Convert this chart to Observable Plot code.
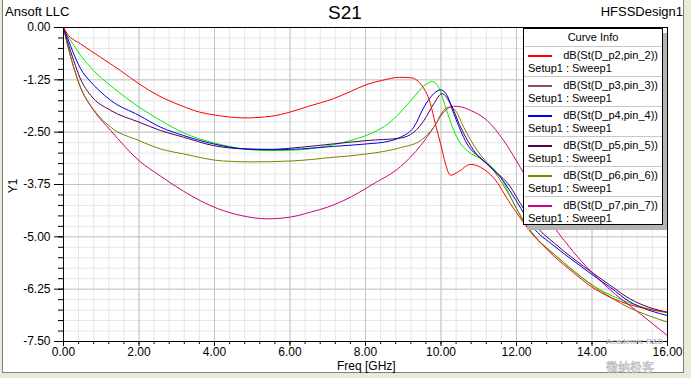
<!DOCTYPE html>
<html>
<head>
<meta charset="utf-8">
<script src="https://cdn.jsdelivr.net/npm/d3@7"></script>
<script src="https://cdn.jsdelivr.net/npm/@observablehq/plot@0.6"></script>
<style>
  html, body { margin:0; padding:0; }
  body { width:691px; height:378px; position:relative; overflow:hidden; background:#ece9d8;
         font-family:"Liberation Sans", Arial, sans-serif; color:#000; }
  #panel { position:absolute; left:2px; top:0; width:680px; height:372px; background:#fff;
           border-left:1px solid #808080; border-right:1px solid #808080; border-bottom:1px solid #808080; }
  #chart { position:absolute; left:0; top:0; }
  .t { position:absolute; white-space:nowrap; }
  #legend { position:absolute; left:523px; top:28px; width:138px; height:195px; background:#fff;
            border:1px solid #000; box-shadow:4px 5px 0 #b4b4b4; font-size:11px; }
  #legend .hdr { height:17px; line-height:17px; text-align:center; }
  #legend .ent { position:relative; height:29px; border-top:1px solid #c8c8c8; }
  #legend .sw { position:absolute; left:4px; top:8px; width:24px; height:2px; }
  #legend .l1 { position:absolute; right:4px; top:2px; line-height:13px; }
  #legend .l2 { position:absolute; left:4px; top:15px; line-height:13px; }
</style>
</head>
<body>
<div id="panel"></div>
<div id="chart"></div>
<div class="t" style="left:5px; top:4px; font-size:13px;">Ansoft LLC</div>
<div class="t" style="left:328px; top:2px; font-size:19px;">S21</div>
<div class="t" style="right:8px; top:4px; font-size:13px;">HFSSDesign1</div>
<div class="t" style="left:337px; top:360px; font-size:12px; line-height:12px;">Freq [GHz]</div>
<div class="t" style="left:6px; top:179px; font-size:12px; transform:rotate(-90deg); transform-origin:50% 50%;">Y1</div>
<div class="t" style="left:606px; top:338px; font-size:8px; line-height:8px; color:#c0c0c0; font-weight:bold;">Academic R&amp;D</div>
<div class="t" style="left:606px; top:361px; font-size:12px; line-height:12px; color:transparent; -webkit-text-stroke:0.6px #b8b8b8; font-family:'Noto Sans CJK SC';">微纳极客</div>
<div id="legend"></div>
<script>
// ---- axis ticks ----
const majorX = [0, 2, 4, 6, 8, 10, 12, 14, 16];
const minorX = d3.range(0, 41).map(i => +(i * 0.4).toFixed(2));
const majorY = [0, -1.25, -2.5, -3.75, -5, -6.25, -7.5];
const minorY = d3.range(0, 31).map(i => -i * 0.25);

// ---- legend ----
const legendNames = ["dB(St(D_p2,pin_2))", "dB(St(D_p3,pin_3))", "dB(St(D_p4,pin_4))",
                     "dB(St(D_p5,pin_5))", "dB(St(D_p6,pin_6))", "dB(St(D_p7,pin_7))"];
const legendSub = "Setup1 : Sweep1";
const legendColors = ["#ff0000", "#8c4a6c", "#0000e6", "#500050", "#808000", "#d20082"];
const greenColor = "#00f000";

// ---- series (Freq GHz, dB) ----
const fP2 = [0, 0.1, 0.45, 0.98, 1.51, 2.0, 2.5, 3.1, 3.6, 4.0, 4.8, 5.5, 6.0, 6.5, 7.15, 7.6, 8.04, 8.5, 8.9, 9.2, 9.46, 9.72, 9.85, 9.99, 10.12, 10.25, 10.45, 10.78, 11.05, 11.4, 11.84, 12.28, 12.98, 13.5, 14.0, 14.5, 15.0, 15.5, 16];
const vP2 = [0, -0.15, -0.39, -0.71, -1.03, -1.345, -1.62, -1.86, -2.02, -2.09, -2.16, -2.12, -2.02, -1.88, -1.70, -1.53, -1.36, -1.25, -1.19, -1.20, -1.35, -1.82, -2.30, -2.78, -3.26, -3.53, -3.45, -3.27, -3.34, -3.60, -4.21, -4.77, -5.45, -5.85, -6.20, -6.45, -6.62, -6.73, -6.80];

const fGreen = [0, 0.05, 0.19, 0.45, 0.8, 1.25, 2.0, 2.57, 3.19, 4.0, 5.4, 6.3, 6.72, 7.2, 7.6, 8.22, 8.6, 8.93, 9.28, 9.55, 9.77, 9.94, 10.12, 10.34, 10.5, 10.69, 11.13, 11.58, 12.0, 12.5, 13.0, 14.0, 15.0, 16];
const vGreen = [0, -0.11, -0.31, -0.66, -1.03, -1.39, -1.90, -2.22, -2.52, -2.76, -2.94, -2.92, -2.87, -2.79, -2.70, -2.50, -2.30, -2.02, -1.66, -1.39, -1.29, -1.43, -1.90, -2.46, -2.75, -2.94, -3.18, -3.58, -4.33, -5.00, -5.42, -6.15, -6.58, -6.82];

const fP4 = [0, 0.1, 0.27, 0.45, 0.72, 0.94, 1.25, 2.0, 2.57, 3.18, 3.97, 4.78, 5.5, 6.28, 7.15, 8.04, 8.6, 8.93, 9.28, 9.55, 9.81, 9.99, 10.16, 10.34, 10.69, 11.13, 11.58, 12.02, 12.4, 13.0, 13.55, 14.0, 14.5, 15.0, 15.5, 16];
const vP4 = [0, -0.23, -0.63, -0.98, -1.30, -1.50, -1.74, -2.10, -2.38, -2.58, -2.78, -2.90, -2.92, -2.90, -2.84, -2.78, -2.72, -2.62, -2.38, -1.90, -1.58, -1.49, -1.62, -2.06, -2.78, -3.18, -3.58, -4.18, -4.73, -5.22, -5.60, -5.90, -6.22, -6.55, -6.75, -6.88];

const fP5 = [0, 0.1, 0.27, 0.45, 0.72, 1.25, 2.0, 2.57, 3.18, 3.97, 4.8, 5.5, 6.28, 7.15, 8.04, 8.93, 9.28, 9.55, 9.81, 10.03, 10.25, 10.52, 10.87, 11.31, 11.84, 12.1, 12.5, 13.0, 13.55, 14.0, 14.5, 15.0, 15.5, 16];
const vP5 = [0, -0.31, -0.79, -1.23, -1.62, -1.98, -2.26, -2.46, -2.62, -2.82, -2.90, -2.91, -2.86, -2.78, -2.70, -2.64, -2.50, -2.22, -1.82, -1.58, -1.82, -2.38, -2.94, -3.34, -3.81, -4.20, -4.73, -5.15, -5.55, -5.85, -6.17, -6.48, -6.68, -6.80];

const fP6 = [0, 0.1, 0.27, 0.45, 0.72, 1.25, 2.0, 2.57, 3.18, 4.24, 5.0, 6.0, 7.15, 8.04, 8.93, 9.46, 9.81, 10.07, 10.2, 10.38, 10.6, 10.96, 11.4, 11.84, 12.25, 13.0, 13.5, 14.0, 14.5, 15.0, 15.5, 16];
const vP6 = [0, -0.39, -0.95, -1.43, -1.86, -2.38, -2.70, -2.90, -3.02, -3.19, -3.21, -3.19, -3.10, -3.02, -2.87, -2.70, -2.38, -1.98, -1.90, -1.98, -2.38, -2.94, -3.42, -4.05, -4.73, -5.42, -5.80, -6.15, -6.45, -6.70, -6.88, -7.04];

const fP7 = [0, 0.1, 0.27, 0.45, 0.8, 1.25, 2.0, 2.57, 3.18, 3.63, 4.07, 4.7, 5.4, 6.0, 6.54, 7.0, 7.43, 8.22, 8.93, 9.46, 9.81, 10.07, 10.34, 10.55, 10.78, 11.22, 11.66, 12.1, 12.5, 12.85, 13.5, 14.4, 15.28, 16];
const vP7 = [0, -0.39, -0.95, -1.43, -1.98, -2.46, -3.18, -3.55, -3.91, -4.14, -4.32, -4.49, -4.57, -4.53, -4.41, -4.29, -4.13, -3.73, -3.32, -2.82, -2.38, -2.02, -1.88, -1.90, -1.98, -2.22, -2.70, -3.34, -3.95, -4.55, -5.35, -6.20, -6.84, -7.36];

const pts = (fs, vs) => fs.map((f, i) => ({f, v: vs[i]}));
const series = [
  {data: pts(fGreen, vGreen), color: greenColor},
  {data: pts(fP7, vP7), color: legendColors[5]},
  {data: pts(fP6, vP6), color: legendColors[4]},
  {data: pts(fP5, vP5), color: legendColors[3]},
  {data: pts(fP4, vP4), color: legendColors[2]},
  {data: pts(fP2, vP2), color: legendColors[0]}
];

const fmt = d => d.toFixed(2);
const chart = Plot.plot({
  width: 691, height: 378,
  marginLeft: 63, marginRight: 24, marginTop: 27, marginBottom: 37,
  x: {domain: [0, 16]},
  y: {domain: [-7.5, 0]},
  style: {background: "transparent", fontFamily: "'Liberation Sans', Arial, sans-serif", fontSize: "12px", color: "#000", overflow: "visible"},
  marks: [
    Plot.gridX(minorX, {stroke: "#e6e6e6", strokeOpacity: 1}),
    Plot.gridY(minorY, {stroke: "#e6e6e6", strokeOpacity: 1}),
    Plot.gridX(majorX, {stroke: "#c4c4c4", strokeOpacity: 1}),
    Plot.gridY(majorY, {stroke: "#c4c4c4", strokeOpacity: 1}),
    ...series.map(s => Plot.line(s.data, {x: "f", y: "v", stroke: s.color, strokeWidth: 1, curve: "monotone-x", clip: true})),
    Plot.frame({stroke: "#000"}),
    Plot.axisX(minorX, {tickSize: 3, tickFormat: () => "", label: null}),
    Plot.axisX(majorX, {tickSize: 5, tickPadding: 1, tickFormat: fmt, label: null}),
    Plot.axisY(minorY, {tickSize: 5, tickFormat: () => "", label: null}),
    Plot.axisY(majorY, {tickSize: 9, tickPadding: 4, tickFormat: fmt, label: null})
  ]
});
document.getElementById("chart").appendChild(chart);

// legend
const lg = document.getElementById("legend");
const hdr = document.createElement("div");
hdr.className = "hdr"; hdr.textContent = "Curve Info";
lg.appendChild(hdr);
legendNames.forEach((name, i) => {
  const e = document.createElement("div"); e.className = "ent";
  const sw = document.createElement("div"); sw.className = "sw"; sw.style.background = legendColors[i];
  const l1 = document.createElement("div"); l1.className = "l1"; l1.textContent = name;
  const l2 = document.createElement("div"); l2.className = "l2"; l2.textContent = legendSub;
  e.append(sw, l1, l2); lg.appendChild(e);
});
</script>
</body>
</html>
